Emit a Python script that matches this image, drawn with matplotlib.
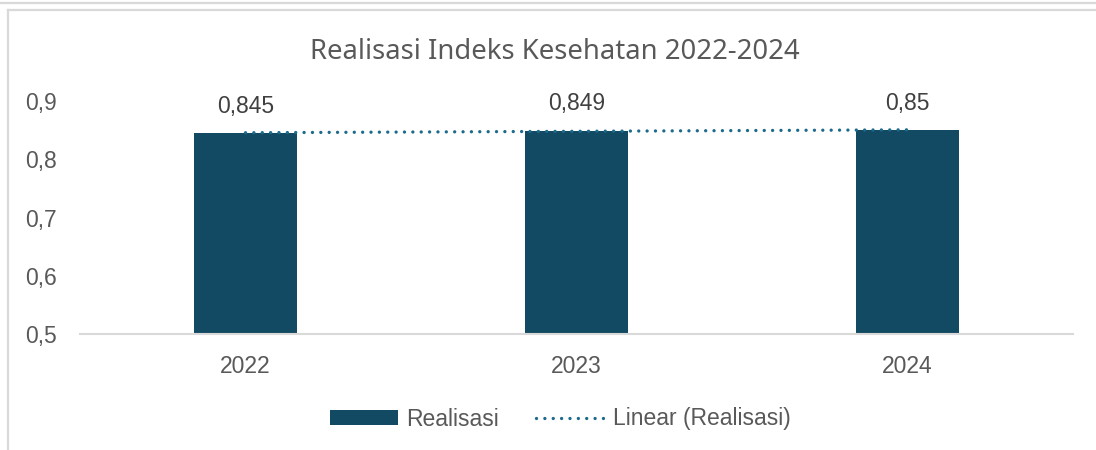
import numpy as np
import matplotlib.pyplot as plt
from matplotlib.lines import Line2D

# data
years = ["2022", "2023", "2024"]
realisasi = [0.845, 0.849, 0.85]
y_ticks = [0.5, 0.6, 0.7, 0.8, 0.9]

bar_color = "#124A63"
trend_color = "#1C6A8C"
text_color = "#595959"
border_color = "#D9D9D9"

fig = plt.figure(figsize=(10.96, 4.5), dpi=100)
ax = fig.add_axes([80 / 1096, 116 / 450, 993 / 1096, 233 / 450])

x = np.arange(len(years))
bars = ax.bar(x, realisasi, width=0.31, color=bar_color, label="Realisasi", zorder=2)

# linear trendline (Excel-style)
slope, intercept = np.polyfit(x, realisasi, 1)
trend, = ax.plot(x, slope * x + intercept, color=trend_color, linewidth=2.4,
                 linestyle=(0, (0.01, 2.5)), dash_capstyle="round", zorder=3,
                 label="Linear (Realisasi)")

for xi, v in zip(x, realisasi):
    ax.annotate(str(v).replace(".", ","), (xi, v), xytext=(0, 11),
                textcoords="offset points", ha="center", va="bottom",
                fontsize=16.5, color="#404040", family="Liberation Sans")

ax.set_xlim(-0.5, 2.5)
ax.set_ylim(0.5, 0.9)
ax.set_xticks(x)
ax.set_xticklabels(years)
ax.set_yticks(y_ticks)
ax.set_yticklabels([str(t).replace(".", ",") for t in y_ticks])
ax.tick_params(length=0, labelsize=16.5, labelcolor=text_color)
ax.tick_params(axis="x", pad=15)
ax.tick_params(axis="y", pad=16.5)
for lbl in ax.get_xticklabels() + ax.get_yticklabels():
    lbl.set_family("Liberation Sans")

for s in ["top", "right", "left"]:
    ax.spines[s].set_visible(False)
ax.spines["bottom"].set_color(border_color)
ax.spines["bottom"].set_linewidth(1.5)

fig.text(555 / 1096, 1 - 52 / 450, "Realisasi Indeks Kesehatan 2022-2024",
         ha="center", va="center", fontsize=19.8, color=text_color,
         family="Noto Sans")

leg = fig.legend([bars, trend], ["Realisasi", "Linear (Realisasi)"],
                 loc="center", bbox_to_anchor=(560 / 1096, 1 - 419 / 450),
                 ncol=2, frameon=False, handlelength=3.0, handleheight=0.6,
                 columnspacing=1.6, handletextpad=0.35,
                 prop={"family": "Liberation Sans", "size": 16.5})
for t in leg.get_texts():
    t.set_color(text_color)

# chart frame borders
fig.add_artist(Line2D([0, 1], [1 - 3 / 450, 1 - 3 / 450], color=border_color, linewidth=1.6))
fig.add_artist(Line2D([8 / 1096, 1], [1 - 10 / 450, 1 - 10 / 450], color=border_color, linewidth=1.6))
fig.add_artist(Line2D([8 / 1096, 8 / 1096], [0, 1 - 10 / 450], color=border_color, linewidth=1.6))

fig.savefig("out.png", dpi=100)
